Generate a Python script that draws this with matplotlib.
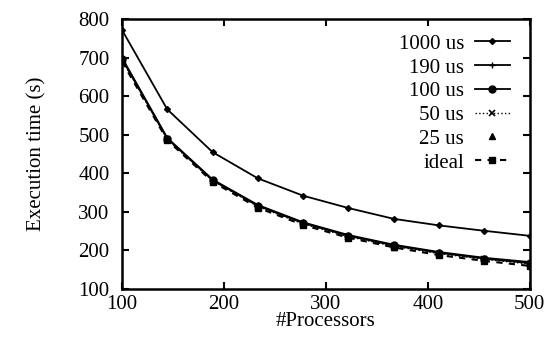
import matplotlib
matplotlib.use("Agg")
import matplotlib.pyplot as plt

procs = [100, 144.4, 188.9, 233.3, 277.8, 322.2, 366.7, 411.1, 455.6, 500]
t1000 = [772, 566, 455, 387, 342, 310, 282, 265, 251, 238]
t190 = [700, 492, 384, 318, 273, 240, 215, 196, 181, 170]
t100 = [697, 490, 382, 316, 271, 238, 213, 194, 179, 167]
t50 = [694, 489, 381, 314, 269, 236, 211, 192, 177, 165]
t25 = [692, 488, 380, 313, 268, 235, 210, 190, 175, 163]
tideal = [690, 486, 378, 311, 266, 233, 208, 188, 173, 160]
labels = ["1000 us", "190 us", "100 us", "50 us", "25 us", "ideal"]
xticks = [100, 200, 300, 400, 500]
yticks = [100, 200, 300, 400, 500, 600, 700, 800]

plt.rcParams['font.family'] = ['Liberation Serif', 'DejaVu Serif']
fig = plt.figure(figsize=(5.57, 3.47), dpi=100)
ax = fig.add_axes([0.219, 0.167, 0.732, 0.778])
k = 'black'
ax.plot(procs, t1000, color=k, lw=1.3, marker='D', ms=3, label=labels[0])
ax.plot(procs, t190, color=k, lw=1.3, marker='+', ms=5, mew=1, label=labels[1])
ax.plot(procs, t100, color=k, lw=1.3, marker='o', ms=5, label=labels[2])
ax.plot(procs, t50, color=k, lw=1.0, ls=':', marker='x', ms=4, mew=1.2, label=labels[3])
ax.plot(procs, t25, color=k, lw=0, marker='^', ms=5, label=labels[4])
ax.plot(procs, tideal, color=k, lw=1.5, ls=(0, (3, 3)), marker='s', ms=4, label=labels[5])

ax.set_xlim(100, 500)
ax.set_ylim(100, 800)
ax.set_xticks(xticks)
ax.set_yticks(yticks)
ax.tick_params(direction='in', length=5, width=1.5, labelsize=15, top=True, right=True)
ax.tick_params(axis='x', pad=4)
ax.tick_params(axis='y', pad=9)
for s in ax.spines.values():
    s.set_linewidth(1.8)
ax.set_xlabel("#Processors", fontsize=15, labelpad=-1)
ax.set_ylabel("Execution time (s)", fontsize=15)
ax.yaxis.set_label_coords(-0.185, 0.5)
ax.legend(loc='upper right', frameon=False, markerfirst=False, fontsize=15,
          handlelength=1.7, labelspacing=0.2, borderaxespad=0.0, handletextpad=0.5,
          bbox_to_anchor=(0.972, 0.975))
fig.savefig("out.png", dpi=100)
